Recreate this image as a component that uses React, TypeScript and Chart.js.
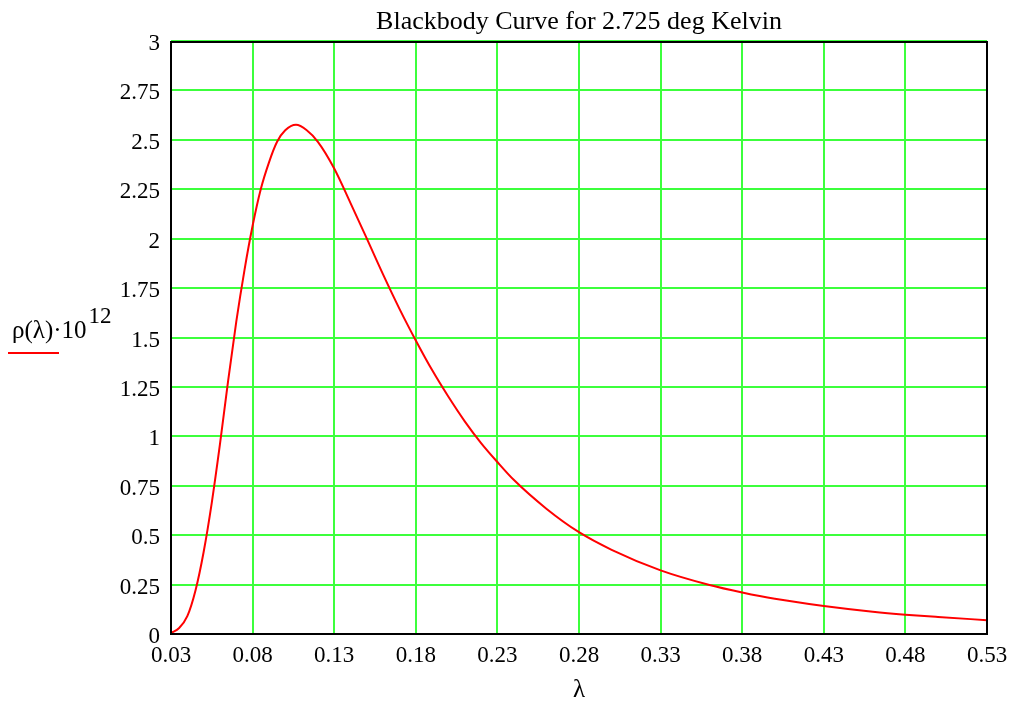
import React, { useEffect, useRef } from "react";
import { Chart, registerables } from "chart.js";

Chart.register(...registerables);

// Wavelength λ (x) and ρ(λ)·10^12 (y)
const lambdaValues = [
  0.03, 0.035, 0.04, 0.045, 0.05, 0.055, 0.06, 0.065, 0.07, 0.075,
  0.08, 0.085, 0.09, 0.095, 0.1, 0.1066, 0.113, 0.12, 0.13,
  0.14, 0.15, 0.16, 0.17, 0.18, 0.19, 0.2, 0.21, 0.22, 0.23,
  0.24, 0.26, 0.28, 0.3, 0.33, 0.36, 0.38, 0.4, 0.43, 0.46,
  0.48, 0.5, 0.53,
];
const rhoValues = [
  0.005, 0.03, 0.09, 0.22, 0.415, 0.665, 0.96, 1.28, 1.58, 1.84,
  2.065, 2.25, 2.385, 2.49, 2.548, 2.576, 2.55, 2.49, 2.355,
  2.18, 2.0, 1.818, 1.645, 1.485, 1.335, 1.2, 1.076, 0.966, 0.87,
  0.78, 0.634, 0.515, 0.426, 0.322, 0.248, 0.21, 0.178, 0.142, 0.113,
  0.098, 0.086, 0.07,
];

const xTickValues = [0.03, 0.08, 0.13, 0.18, 0.23, 0.28, 0.33, 0.38, 0.43, 0.48, 0.53];
const yTickValues = [0, 0.25, 0.5, 0.75, 1, 1.25, 1.5, 1.75, 2, 2.25, 2.5, 2.75, 3];

const chartTitle = "Blackbody Curve for 2.725 deg Kelvin";
const xAxisLabel = "λ";
const yAxisLabel = "ρ(λ)·10";
const yAxisExponent = "12";

const FONT = "'Liberation Serif', 'Times New Roman', serif";
const GRID = "#3cff3c";

const decorPlugin = {
  id: "decor",
  afterDraw(chart: any) {
    const { ctx, chartArea: a } = chart;
    ctx.save();
    ctx.strokeStyle = "#000";
    ctx.lineWidth = 2;
    ctx.strokeRect(a.left, a.top + 1, a.right - a.left, a.bottom - a.top - 1);

    ctx.fillStyle = "#000";
    ctx.textBaseline = "alphabetic";
    ctx.textAlign = "center";
    ctx.font = `26px ${FONT}`;
    ctx.fillText(chartTitle, (a.left + a.right) / 2, 29);
    ctx.font = `25px ${FONT}`;
    ctx.fillText(xAxisLabel, (a.left + a.right) / 2, 697);

    ctx.textAlign = "left";
    ctx.font = `25px ${FONT}`;
    ctx.fillText(yAxisLabel, 12, 338);
    const w = ctx.measureText(yAxisLabel).width;
    ctx.font = `23px ${FONT}`;
    ctx.fillText(yAxisExponent, 12 + w + 2, 323);

    ctx.strokeStyle = "#ff0000";
    ctx.lineWidth = 2;
    ctx.beginPath();
    ctx.moveTo(8, 353);
    ctx.lineTo(59, 353);
    ctx.stroke();
    ctx.restore();
  },
};

export default function App() {
  const canvasRef = useRef<HTMLCanvasElement | null>(null);

  useEffect(() => {
    const canvas = canvasRef.current;
    if (!canvas) return;
    const points = lambdaValues.map((x, i) => ({ x, y: rhoValues[i] }));
    const chart = new Chart(canvas, {
      type: "line",
      data: {
        datasets: [
          {
            data: points,
            borderColor: "#ff0000",
            borderWidth: 2,
            pointRadius: 0,
            fill: false,
            cubicInterpolationMode: "monotone",
          },
        ],
      },
      options: {
        animation: false,
        responsive: false,
        layout: { padding: { left: 0, top: 41, right: 29, bottom: 0 } },
        plugins: {
          legend: { display: false },
          title: { display: false },
          tooltip: { enabled: false },
        },
        scales: {
          x: {
            type: "linear",
            min: 0.03,
            max: 0.53,
            afterBuildTicks: (scale: any) => {
              scale.ticks = xTickValues.map((v) => ({ value: v }));
            },
            afterFit: (scale: any) => {
              scale.height = 72;
            },
            grid: { color: GRID, lineWidth: 2, drawTicks: false },
            border: { display: false },
            ticks: {
              color: "#000",
              font: { family: FONT, size: 23 },
              padding: 8,
              maxRotation: 0,
              autoSkip: false,
              callback: (v: any) => Number(v).toFixed(2),
            },
          },
          y: {
            type: "linear",
            min: 0,
            max: 3,
            afterBuildTicks: (scale: any) => {
              scale.ticks = yTickValues.map((v) => ({ value: v }));
            },
            afterFit: (scale: any) => {
              scale.width = 171;
            },
            grid: { color: GRID, lineWidth: 2, drawTicks: false },
            border: { display: false },
            ticks: {
              color: "#000",
              font: { family: FONT, size: 23 },
              padding: 11,
              labelOffset: 3,
              autoSkip: false,
              callback: (v: any) => String(Number(v)),
            },
          },
        },
      },
      plugins: [decorPlugin],
    });
    return () => chart.destroy();
  }, []);

  return (
    <div style={{ position: "absolute", left: 0, top: 0, width: 1016, height: 706, background: "#fff" }}>
      <canvas ref={canvasRef} width={1016} height={706} style={{ display: "block" }} />
    </div>
  );
}
